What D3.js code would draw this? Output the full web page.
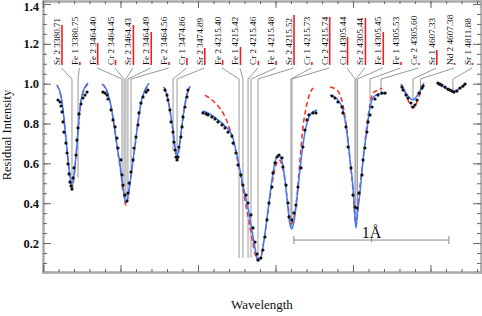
<!DOCTYPE html>
<html>
<head>
<meta charset="utf-8">
<script src="https://cdn.jsdelivr.net/npm/d3@7"></script>
<style>
  body { margin: 0; background: #fff; }
  svg text { font-family: "Liberation Serif", "Times New Roman", serif; fill: #111; }
</style>
</head>
<body>
<div id="chart"></div>
<script>
// x is a stitched wavelength offset in Angstrom (segments from different regions), y is residual intensity
const obs1 = [[0.097, 0.918], [0.110, 0.908], [0.116, 0.888], [0.123, 0.858], [0.129, 0.808], [0.135, 0.757], [0.148, 0.702], [0.155, 0.652], [0.161, 0.597], [0.168, 0.547], [0.174, 0.506], [0.181, 0.486], [0.187, 0.471], [0.194, 0.527], [0.200, 0.577], [0.213, 0.642], [0.219, 0.717], [0.226, 0.778], [0.232, 0.848], [0.245, 0.898], [0.258, 0.928], [0.271, 0.943], [0.284, 0.958]]
const obs2 = [[0.387, 0.958], [0.400, 0.953], [0.413, 0.943], [0.419, 0.923], [0.439, 0.868], [0.452, 0.818], [0.465, 0.783], [0.477, 0.727], [0.484, 0.677], [0.503, 0.617], [0.510, 0.542], [0.516, 0.491], [0.529, 0.441], [0.542, 0.411], [0.548, 0.451], [0.555, 0.501], [0.568, 0.557], [0.581, 0.617], [0.587, 0.677], [0.600, 0.732], [0.613, 0.793], [0.619, 0.853], [0.632, 0.903], [0.645, 0.933], [0.665, 0.958], [0.677, 0.968]]
const obs3 = [[0.787, 0.968], [0.800, 0.943], [0.806, 0.918], [0.819, 0.868], [0.826, 0.808], [0.839, 0.757], [0.845, 0.707], [0.852, 0.667], [0.858, 0.632], [0.865, 0.617], [0.871, 0.632], [0.877, 0.682], [0.890, 0.732], [0.897, 0.783], [0.903, 0.833], [0.916, 0.883], [0.929, 0.933], [0.935, 0.968]]
const obs4 = [[1.032, 0.853], [1.052, 0.848], [1.065, 0.843], [1.090, 0.833], [1.110, 0.823], [1.129, 0.808], [1.155, 0.793], [1.174, 0.778], [1.194, 0.757], [1.219, 0.737], [1.226, 0.702], [1.245, 0.652], [1.258, 0.592], [1.277, 0.542], [1.290, 0.491], [1.310, 0.441], [1.323, 0.401], [1.342, 0.341], [1.355, 0.276], [1.368, 0.205], [1.381, 0.145], [1.387, 0.115], [1.406, 0.125], [1.419, 0.165], [1.432, 0.230], [1.445, 0.316], [1.458, 0.401], [1.477, 0.481], [1.484, 0.552], [1.497, 0.602], [1.510, 0.632], [1.523, 0.642], [1.542, 0.627], [1.548, 0.582], [1.568, 0.491], [1.581, 0.401], [1.587, 0.331], [1.606, 0.316], [1.619, 0.351], [1.632, 0.391], [1.645, 0.481], [1.665, 0.577], [1.677, 0.682], [1.690, 0.767], [1.703, 0.818], [1.716, 0.843], [1.742, 0.853], [1.761, 0.853]]
const obs5 = [[1.865, 0.938], [1.884, 0.928], [1.903, 0.908], [1.929, 0.883], [1.935, 0.853], [1.955, 0.783], [1.968, 0.682], [1.987, 0.577], [2.000, 0.441], [2.013, 0.381], [2.026, 0.376], [2.039, 0.451], [2.058, 0.542], [2.065, 0.617], [2.077, 0.677], [2.090, 0.757], [2.097, 0.808], [2.110, 0.843], [2.123, 0.883], [2.142, 0.923], [2.161, 0.943], [2.187, 0.953], [2.206, 0.953]]
const obs6 = [[2.316, 0.983], [2.323, 0.968], [2.342, 0.943], [2.355, 0.928], [2.374, 0.903], [2.387, 0.883], [2.400, 0.893], [2.413, 0.918], [2.426, 0.953], [2.445, 0.978], [2.452, 0.988]]
const obs7 = [[2.548, 1.003], [2.561, 0.998], [2.574, 0.993], [2.594, 0.983], [2.613, 0.973], [2.626, 0.968], [2.639, 0.963], [2.652, 0.958], [2.671, 0.963], [2.690, 0.978], [2.710, 0.988], [2.723, 0.998]]

// blue: fitted synthetic spectrum
const fit1 = [[0.090, 0.993], [0.110, 0.958], [0.123, 0.908], [0.135, 0.828], [0.148, 0.727], [0.161, 0.627], [0.174, 0.537], [0.187, 0.486], [0.200, 0.537], [0.213, 0.642], [0.226, 0.767], [0.239, 0.878], [0.252, 0.943], [0.271, 0.983], [0.290, 1.003]]
const fit2 = [[0.381, 0.998], [0.400, 0.983], [0.419, 0.948], [0.439, 0.888], [0.458, 0.798], [0.477, 0.692], [0.497, 0.592], [0.516, 0.481], [0.535, 0.401], [0.555, 0.466], [0.574, 0.577], [0.594, 0.692], [0.613, 0.808], [0.632, 0.903], [0.652, 0.958], [0.671, 0.988], [0.684, 1.003]]
const fit3 = [[0.781, 0.983], [0.800, 0.943], [0.819, 0.868], [0.839, 0.767], [0.852, 0.682], [0.865, 0.637], [0.877, 0.677], [0.890, 0.752], [0.910, 0.868], [0.929, 0.948], [0.948, 0.988]]
const fit4 = [[1.032, 0.863], [1.077, 0.848], [1.129, 0.818], [1.174, 0.788], [1.219, 0.742], [1.245, 0.667], [1.271, 0.567], [1.297, 0.466], [1.323, 0.376], [1.348, 0.265], [1.368, 0.175], [1.387, 0.110], [1.406, 0.125], [1.426, 0.215], [1.452, 0.366], [1.477, 0.516], [1.497, 0.607], [1.516, 0.642], [1.535, 0.627], [1.555, 0.557], [1.574, 0.426], [1.594, 0.291], [1.606, 0.271], [1.619, 0.306], [1.639, 0.426], [1.658, 0.567], [1.677, 0.692], [1.697, 0.783], [1.716, 0.833], [1.742, 0.858], [1.768, 0.868]]
const fit5 = [[1.852, 0.943], [1.897, 0.923], [1.935, 0.868], [1.961, 0.752], [1.981, 0.617], [2.000, 0.481], [2.013, 0.331], [2.019, 0.276], [2.026, 0.331], [2.045, 0.451], [2.065, 0.617], [2.090, 0.767], [2.110, 0.883], [2.129, 0.928], [2.161, 0.948], [2.219, 0.953]]
const fit6 = [[2.310, 0.998], [2.335, 0.963], [2.361, 0.933], [2.387, 0.918], [2.413, 0.938], [2.439, 0.973], [2.458, 1.003]]
const fit7 = [[2.548, 0.998], [2.600, 0.978], [2.645, 0.963], [2.690, 0.978], [2.729, 1.003]]

// red dashed: comparison model
const model1 = [[0.090, 0.993], [0.110, 0.953], [0.123, 0.903], [0.135, 0.823], [0.148, 0.722], [0.161, 0.617], [0.174, 0.527], [0.187, 0.471], [0.200, 0.532], [0.213, 0.637], [0.226, 0.762], [0.239, 0.873], [0.252, 0.938], [0.271, 0.978], [0.290, 0.998]]
const model2 = [[0.381, 0.998], [0.400, 0.983], [0.419, 0.948], [0.439, 0.883], [0.458, 0.793], [0.477, 0.687], [0.497, 0.582], [0.516, 0.471], [0.535, 0.391], [0.555, 0.461], [0.574, 0.572], [0.594, 0.687], [0.613, 0.803], [0.632, 0.898], [0.652, 0.953], [0.671, 0.983], [0.684, 0.998]]
const model3 = [[0.781, 0.983], [0.800, 0.938], [0.819, 0.863], [0.839, 0.757], [0.852, 0.672], [0.865, 0.622], [0.877, 0.667], [0.890, 0.742], [0.910, 0.863], [0.929, 0.943], [0.948, 0.983]]
const model4 = [[1.045, 0.943], [1.090, 0.918], [1.129, 0.888], [1.161, 0.853], [1.194, 0.798], [1.226, 0.717], [1.252, 0.627], [1.277, 0.527], [1.303, 0.416], [1.329, 0.306], [1.355, 0.195], [1.381, 0.120], [1.400, 0.125], [1.426, 0.215], [1.452, 0.356], [1.477, 0.491], [1.503, 0.592], [1.523, 0.617], [1.542, 0.592], [1.561, 0.516], [1.581, 0.391], [1.600, 0.296], [1.619, 0.326], [1.639, 0.441], [1.658, 0.617], [1.677, 0.778], [1.697, 0.878], [1.716, 0.938], [1.742, 0.978]]
const model5 = [[1.852, 0.983], [1.897, 0.968], [1.935, 0.893], [1.961, 0.767], [1.981, 0.617], [2.000, 0.466], [2.019, 0.286], [2.039, 0.441], [2.065, 0.617], [2.090, 0.793], [2.110, 0.898], [2.129, 0.953], [2.161, 0.968], [2.187, 0.978]]
const model6 = [[2.310, 0.998], [2.335, 0.958], [2.361, 0.908], [2.387, 0.878], [2.413, 0.908], [2.439, 0.963], [2.458, 0.998]]
const model7 = [[2.548, 0.998], [2.600, 0.975], [2.645, 0.958], [2.690, 0.975], [2.729, 1.000]]

// identified lines: label, plotted position (A), depth reached by the marker, relative strength
const lineLabels = ['Sr 2 3380.71', 'Fe 1 3380.75', 'Fe 2 3464.40', 'Cr 2 3464.45', 'Sr 2 3464.43', 'Fe 2 3464.49',
  'Fe 2 3464.56', 'Cr 1 3474.86', 'Sr 2 3474.89', 'Fe 2 4215.40', 'Fe 1 4215.42', 'Cr 2 4215.46', 'Fe 1 4215.48',
  'Sr 2 4215.52', 'Cr 1 4215.73', 'Cr 2 4215.74', 'Cr 1 4305.44', 'Sr 2 4305.44', 'Fe 1 4305.45', 'Fe 1 4305.53',
  'Ce 2 4305.60', 'Sr 1 4607.33', 'Nd 2 4607.38', 'Sr 1 4811.88']
const linePos = [0.187, 0.226, 0.510, 0.523, 0.535, 0.548, 0.568, 0.839, 0.865, 1.265, 1.290, 1.323, 1.342, 1.387,
  1.600, 1.606, 2.013, 2.019, 2.029, 2.110, 2.181, 2.387, 2.435, 2.645]
const lineDepth = [0.491, 0.527, 0.466, 0.441, 0.416, 0.441, 0.567, 0.667, 0.642, 0.125, 0.125, 0.125, 0.125, 0.125,
  0.276, 0.276, 0.341, 0.341, 0.341, 0.908, 0.943, 0.918, 0.943, 0.968]
const lineStrength = [0.80, 0.06, 0.44, 0.10, 0.80, 0.66, 0.06, 0.14, 0.34, 0.10, 0.36, 0.08, 0.08, 1.00, 0.06, 0.96,
  0.56, 0.94, 0.66, 0.06, 0.04, 0.30, 0.04, 0.04]

const yTicks = [0.2, 0.4, 0.6, 0.8, 1.0, 1.2, 1.4]
const scaleBar = [1.619, 2.619]
const scaleBarY = 0.215

const obsSegments = [obs1, obs2, obs3, obs4, obs5, obs6, obs7]
const fitSegments = [fit1, fit2, fit3, fit4, fit5, fit6, fit7]
const modelSegments = [model1, model2, model3, model4, model5, model6, model7]

const width = 482
const height = 316

const x = d3.scaleLinear().domain([0, 2.826]).range([43, 481])
const y = d3.scaleLinear().domain([0.0546, 1.415]).range([272, 1])
const labelX = d3.scalePoint().domain(d3.range(lineLabels.length)).range([61.5, 472])
const barLen = d3.scaleLinear().domain([0, 1]).range([0, 50])

const svg = d3.select('#chart').append('svg')
  .attr('width', width)
  .attr('height', height)

// frame axes, ticks pointing inward
const minorY = d3.range(0.1, 1.41, 0.05)
const minorX = d3.range(0, 2.83, 0.1)
const majorX = d3.range(0, 2.83, 0.5)

svg.append('g')
  .attr('transform', 'translate(43,0)')
  .call(d3.axisLeft(y).tickValues(yTicks).tickFormat(d3.format('.1f')).tickSize(-8).tickPadding(4))
  .call(g => g.selectAll('text')
    .attr('font-size', 12.5)
    .attr('font-weight', 'bold')
    .attr('dy', d => d === 1.4 ? '0.5em' : '0.32em')
    .style('font-family', '"Liberation Serif", serif'))
svg.append('g')
  .attr('transform', 'translate(43,0)')
  .call(d3.axisLeft(y).tickValues(minorY).tickFormat('').tickSize(-4))
svg.append('g')
  .attr('transform', 'translate(481,0)')
  .call(d3.axisRight(y).tickValues(yTicks).tickFormat('').tickSize(-8))
svg.append('g')
  .attr('transform', 'translate(481,0)')
  .call(d3.axisRight(y).tickValues(minorY).tickFormat('').tickSize(-4))
svg.append('g')
  .attr('transform', 'translate(0,272)')
  .call(d3.axisBottom(x).tickValues(majorX).tickFormat('').tickSize(-7))
svg.append('g')
  .attr('transform', 'translate(0,272)')
  .call(d3.axisBottom(x).tickValues(minorX).tickFormat('').tickSize(-3))
svg.append('g')
  .attr('transform', 'translate(0,1)')
  .call(d3.axisTop(x).tickValues(majorX).tickFormat('').tickSize(-7))
svg.append('g')
  .attr('transform', 'translate(0,1)')
  .call(d3.axisTop(x).tickValues(minorX).tickFormat('').tickSize(-3))

svg.selectAll('.domain').attr('stroke', '#aaa').attr('stroke-width', 2)
svg.selectAll('.tick line').attr('stroke', '#666')

// line identifications
const marks = svg.append('g')
marks.selectAll('path')
  .data(lineLabels)
  .enter().append('path')
  .attr('d', (d, i) => 'M' + labelX(i) + ',68L' + x(linePos[i]) + ',79L' + x(linePos[i]) + ',' + y(lineDepth[i]))
  .attr('fill', 'none')
  .attr('stroke', '#999')
  .attr('stroke-width', 1)

marks.selectAll('.bar')
  .data(lineLabels)
  .enter().append('line')
  .attr('class', 'bar')
  .attr('x1', (d, i) => labelX(i) + 0.5)
  .attr('x2', (d, i) => labelX(i) + 0.5)
  .attr('y1', 65)
  .attr('y2', (d, i) => 65 - barLen(lineStrength[i]))
  .attr('stroke', '#f0201a')
  .attr('stroke-width', 1.6)

marks.selectAll('text')
  .data(lineLabels)
  .enter().append('text')
  .attr('transform', (d, i) => 'translate(' + (labelX(i) - 1.5) + ',65) rotate(-90)')
  .attr('font-size', 9.2)
  .text(d => d)

// spectra
const line = d3.line()
  .x(d => x(d[0]))
  .y(d => y(d[1]))
  .curve(d3.curveMonotoneX)

svg.append('g').selectAll('path')
  .data(modelSegments)
  .enter().append('path')
  .attr('d', line)
  .attr('fill', 'none')
  .attr('stroke', '#ff2a22')
  .attr('stroke-width', 1.5)
  .attr('stroke-dasharray', '5,3')

svg.append('g').selectAll('path')
  .data(fitSegments)
  .enter().append('path')
  .attr('d', line)
  .attr('fill', 'none')
  .attr('stroke', '#3c7cff')
  .attr('stroke-width', 1.5)

svg.append('g').selectAll('circle')
  .data(obsSegments.flat())
  .enter().append('circle')
  .attr('cx', d => x(d[0]))
  .attr('cy', d => y(d[1]))
  .attr('r', 1.6)
  .attr('fill', '#111')

// 1 A scale bar
const bar = svg.append('g').attr('stroke', '#888').attr('stroke-width', 1)
bar.append('line')
  .attr('x1', x(scaleBar[0])).attr('x2', x(scaleBar[1]))
  .attr('y1', y(scaleBarY)).attr('y2', y(scaleBarY))
bar.selectAll('.cap')
  .data([scaleBar[0], (scaleBar[0] + scaleBar[1]) / 2, scaleBar[1]])
  .enter().append('line')
  .attr('class', 'cap')
  .attr('x1', d => x(d)).attr('x2', d => x(d))
  .attr('y1', (d, i) => y(scaleBarY) - (i === 1 ? 2 : 4))
  .attr('y2', (d, i) => y(scaleBarY) + (i === 1 ? 2 : 4))
svg.append('text')
  .attr('x', x((scaleBar[0] + scaleBar[1]) / 2))
  .attr('y', y(scaleBarY) - 2)
  .attr('text-anchor', 'middle')
  .attr('font-size', 16)
  .text('1Å')

// axis titles
svg.append('text')
  .attr('transform', 'translate(11,135) rotate(-90)')
  .attr('text-anchor', 'middle')
  .attr('font-size', 12.5)
  .text('Residual Intensity')

svg.append('text')
  .attr('x', 262)
  .attr('y', 309)
  .attr('text-anchor', 'middle')
  .attr('font-size', 13)
  .text('Wavelength')
</script>
</body>
</html>
